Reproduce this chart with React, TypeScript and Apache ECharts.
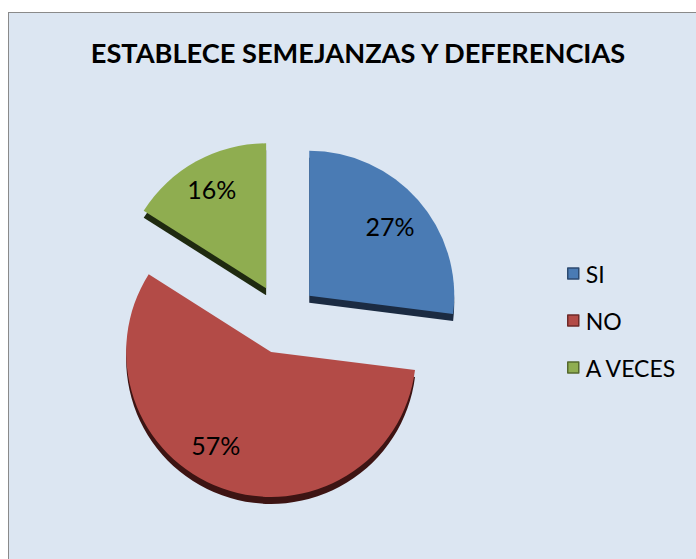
import React, { useEffect, useRef } from "react";
import * as echarts from "echarts";

const titleText = "ESTABLECE SEMEJANZAS Y DEFERENCIAS";
const categories = ["SI", "NO", "A VECES"];
const values = [27, 57, 16];
const topColors = ["#4a7bb4", "#b34b47", "#8fad50"];
const sideColors = ["#1b2b42", "#3d1413", "#1f2a10"];
const legendBorders = ["#2c4a70", "#6e2a28", "#56692e"];
// label box paddings nudging texts horizontally to where the reference places them
const labelPaddings = [[0, 8, 0, 0], [0, 34, 0, 0], [0, 0, 0, 0]];

export default function App() {
  const ref = useRef<HTMLDivElement>(null);
  useEffect(() => {
    if (!ref.current) return;
    const chart = echarts.init(ref.current, undefined, { renderer: "svg" });
    const cx = 274;
    const cy = 306;
    const r = 145;
    const off = 35;
    const depth = 7;
    const mk = (colors: string[], withPad = false) =>
      categories.map((name, i) => ({
        name,
        value: values[i],
        selected: true,
        itemStyle: { color: colors[i] },
        ...(withPad ? { label: { padding: labelPaddings[i] } } : {}),
      }));
    const base = {
      type: "pie",
      startAngle: 90,
      clockwise: true,
      selectedMode: "multiple",
      selectedOffset: off,
      silent: true,
      labelLine: { show: false },
      emphasis: { disabled: true },
    };
    chart.setOption({
      animation: false,
      backgroundColor: "#dce6f2",
      title: {
        text: titleText,
        left: "center",
        top: 21,
        textStyle: {
          fontFamily: "Lato",
          fontWeight: "bold",
          fontSize: 27.2,
          color: "#000",
        },
      },
      legend: {
        orient: "vertical",
        left: 553,
        top: 244,
        itemGap: 24,
        itemWidth: 11,
        itemHeight: 11,
        icon: "rect",
        selectedMode: false,
        data: categories.map((name, i) => ({
          name,
          itemStyle: { color: topColors[i], borderColor: legendBorders[i], borderWidth: 1.5 },
        })),
        textStyle: { fontFamily: "Lato", fontSize: 23, color: "#000", padding: [0, 0, 0, 2] },
      },
      series: [
        {
          ...base,
          name: "top",
          z: 3,
          center: [cx, cy],
          radius: [0, r],
          data: mk(topColors),
          label: { show: false },
        },
        {
          ...base,
          name: "side",
          z: 2,
          center: [cx, cy + depth],
          radius: [0, r],
          data: mk(sideColors),
          label: { show: false },
        },
        {
          ...base,
          name: "labels",
          z: 4,
          center: [cx, cy],
          radius: [75, r],
          data: mk(["rgba(0,0,0,0)", "rgba(0,0,0,0)", "rgba(0,0,0,0)"], true),
          label: {
            show: true,
            position: "inside",
            formatter: (p: any) => {
              const t = `${Math.round(p.percent)}%`;
              if (p.name === "NO") return `{v|${t}}\n{gap|}`;
              if (p.name === "SI") return `{small|}\n{v|${t}}`;
              return `{v|${t}}`;
            },
            rich: {
              v: { fontFamily: "Lato", fontSize: 25, color: "#000", height: 28 },
              gap: { height: 26 },
              small: { height: 10 },
            },
            fontFamily: "Lato",
            fontSize: 25,
            color: "#000",
          },
        },
      ],
    });
    return () => chart.dispose();
  }, []);
  return (
    <div
      style={{
        position: "fixed",
        left: 8,
        top: 12,
        width: 700,
        height: 560,
        border: "1px solid #8a8a8a",
        boxSizing: "border-box",
      }}
    >
      <div ref={ref} style={{ width: 698, height: 558 }} />
    </div>
  );
}
